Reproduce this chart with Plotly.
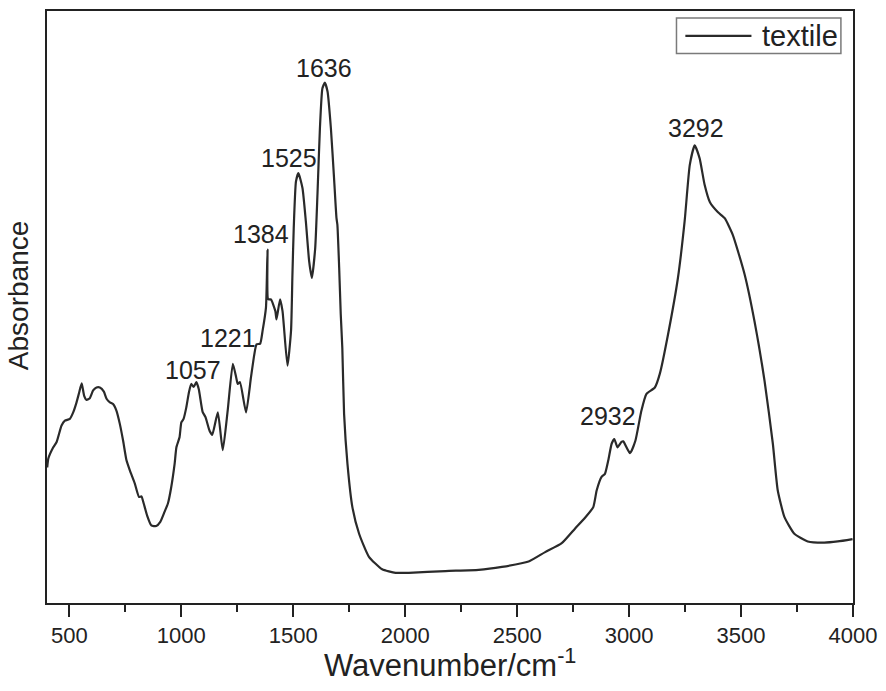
import plotly.graph_objects as go

# FTIR spectrum of the textile sample
wavenumber = [401, 406, 428, 443, 465, 480, 502, 517, 532, 544, 555, 566, 577, 591, 606, 621, 636, 654,
              666, 681, 695, 710, 725, 740, 755, 770, 792, 811, 822, 832, 847, 866, 888, 906, 925, 940,
              955, 970, 978, 992, 1000, 1010, 1022, 1034, 1044, 1055, 1067, 1078, 1095, 1108, 1126, 1138,
              1163, 1185, 1207, 1230, 1245, 1252, 1262, 1289, 1311, 1326, 1336, 1352, 1363, 1378, 1385,
              1388, 1400, 1420, 1425, 1441, 1452, 1474, 1490, 1496, 1502, 1512, 1523, 1541, 1556, 1571,
              1583, 1598, 1608, 1619, 1630, 1641, 1653, 1668, 1682, 1693, 1697, 1705, 1712, 1719, 1727,
              1742, 1764, 1794, 1838, 1897, 1957, 2016, 2180, 2328, 2432, 2551, 2625, 2699, 2759, 2803,
              2840, 2855, 2877, 2892, 2907, 2922, 2934, 2948, 2966, 2974, 3004, 3028, 3055, 3077, 3115,
              3137, 3174, 3218, 3248, 3271, 3293, 3315, 3337, 3361, 3397, 3427, 3463, 3516, 3560, 3605,
              3642, 3664, 3694, 3738, 3798, 3872, 3932, 3998]
absorbance = [0.229, 0.244, 0.263, 0.272, 0.300, 0.308, 0.311, 0.322, 0.339, 0.356, 0.371, 0.350, 0.343,
              0.346, 0.359, 0.364, 0.364, 0.357, 0.345, 0.339, 0.336, 0.325, 0.303, 0.274, 0.241, 0.224,
              0.202, 0.179, 0.180, 0.168, 0.148, 0.131, 0.130, 0.137, 0.154, 0.168, 0.196, 0.235, 0.263,
              0.280, 0.305, 0.311, 0.330, 0.356, 0.370, 0.365, 0.373, 0.361, 0.323, 0.314, 0.291, 0.284,
              0.322, 0.258, 0.325, 0.404, 0.381, 0.370, 0.373, 0.322, 0.381, 0.420, 0.437, 0.438, 0.460,
              0.499, 0.597, 0.513, 0.513, 0.493, 0.479, 0.513, 0.493, 0.401, 0.460, 0.551, 0.633, 0.712,
              0.726, 0.701, 0.645, 0.577, 0.549, 0.600, 0.690, 0.802, 0.869, 0.879, 0.864, 0.802, 0.718,
              0.650, 0.639, 0.566, 0.488, 0.431, 0.319, 0.235, 0.162, 0.117, 0.078, 0.057, 0.051, 0.051,
              0.054, 0.056, 0.061, 0.070, 0.086, 0.101, 0.126, 0.144, 0.162, 0.190, 0.213, 0.218, 0.241,
              0.269, 0.277, 0.263, 0.272, 0.273, 0.253, 0.274, 0.325, 0.353, 0.364, 0.387, 0.454, 0.549,
              0.645, 0.740, 0.773, 0.751, 0.707, 0.677, 0.660, 0.650, 0.622, 0.555, 0.476, 0.375, 0.269,
              0.190, 0.145, 0.117, 0.104, 0.102, 0.104, 0.108]

# peak labels and where their text sits
peak_labels = ["1057", "1221", "1384", "1525", "1636", "2932", "3292"]
label_x = [1050, 1210, 1357, 1482, 1638, 2907, 3299]
label_y = [0.394, 0.448, 0.623, 0.751, 0.904, 0.316, 0.803]

SERIES_NAME = "textile"
FONT = "Arial, Liberation Sans, sans-serif"
INK = "#222222"
LINE = "#2a2a2a"

fig = go.Figure()
fig.add_trace(go.Scatter(x=wavenumber, y=absorbance, mode="lines", name=SERIES_NAME,
                         showlegend=False,
                         line=dict(color=LINE, width=2.2, shape="spline", smoothing=0.5)))

for txt, lx, ly in zip(peak_labels, label_x, label_y):
    fig.add_annotation(x=lx, y=ly, text=txt, showarrow=False,
                       font=dict(family=FONT, size=25, color=INK))

# boxed legend in the top-right corner (drawn by hand so the sample line is long)
fig.add_shape(type="rect", xref="paper", yref="paper", x0=0.781, x1=0.985, y0=0.928, y1=0.988,
              line=dict(color="#7a7a7a", width=1.5), fillcolor="white", layer="above")
fig.add_shape(type="line", xref="paper", yref="paper", x0=0.792, x1=0.874, y0=0.958, y1=0.958,
              line=dict(color=LINE, width=2.2), layer="above")
fig.add_annotation(xref="paper", yref="paper", x=0.884, y=0.958, xanchor="left", yanchor="middle",
                   text=SERIES_NAME, showarrow=False, font=dict(family=FONT, size=29, color=INK))

# axis titles placed as annotations to sit where the original has them
fig.add_annotation(xref="paper", yref="paper", x=-0.0355, y=0.519, xanchor="center", yanchor="middle",
                   text="Absorbance", textangle=-90, showarrow=False,
                   font=dict(family=FONT, size=28, color=INK))
fig.add_annotation(xref="paper", yref="paper", x=0.5006, y=-0.101, xanchor="center", yanchor="middle",
                   text="Wavenumber/cm<sup>-1</sup>", showarrow=False,
                   font=dict(family=FONT, size=31, color=INK))

fig.update_layout(
    width=886, height=691,
    margin=dict(l=47, r=31, t=9, b=88),
    paper_bgcolor="white", plot_bgcolor="white",
    font=dict(family=FONT, color=INK),
    showlegend=False,
)
fig.update_xaxes(range=[400, 4000], dtick=500, tick0=500,
                 showline=True, linecolor=INK, linewidth=2, mirror=True,
                 ticks="outside", ticklen=12, tickwidth=2, tickcolor=INK,
                 minor=dict(dtick=250, tick0=250, ticks="outside", ticklen=7, tickwidth=2, tickcolor=INK),
                 showgrid=False, zeroline=False,
                 tickfont=dict(family=FONT, size=22, color=INK))
fig.update_yaxes(range=[0, 1], showline=True, linecolor=INK, linewidth=2, mirror=True,
                 ticks="", showticklabels=False, showgrid=False, zeroline=False,
                 automargin=False)

# drop the browser's default 8px body margin so the figure fills the window
fig.write_html("out.html", config={"displayModeBar": False},
               post_script="document.body.style.margin = '0';")
